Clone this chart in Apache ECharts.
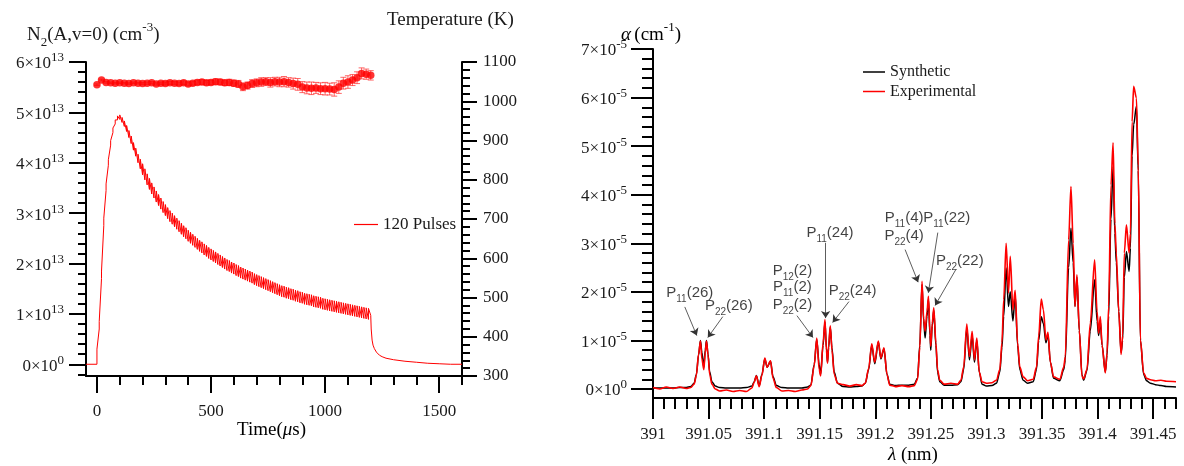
<!DOCTYPE html>
<html><head><meta charset="utf-8">
<script src="https://cdn.jsdelivr.net/npm/echarts@6/dist/echarts.min.js"></script>
<style>html,body{margin:0;padding:0;background:#fff}#c{width:1184px;height:466px}</style>
</head><body><div id="c"></div>
<script>
// ================= LEFT PANEL DATA =================
// N2(A,v=0) density (units of 1e13 cm^-3): value just before (lo) and just after (hi) each pulse
const pulseT = [0,10,20,30,40,50,60,70,80,90,100,110,120,130,140,150,160,170,180,190,200,210,220,230,240,250,260,270,280,290,300,310,320,330,340,350,360,370,380,390,400,410,420,430,440,450,460,470,480,490,500,510,520,530,540,550,560,570,580,590,600,610,620,630,640,650,660,670,680,690,700,710,720,730,740,750,760,770,780,790,800,810,820,830,840,850,860,870,880,890,900,910,920,930,940,950,960,970,980,990,1000,1010,1020,1030,1040,1050,1060,1070,1080,1090,1100,1110,1120,1130,1140,1150,1160,1170,1180,1190];
const n2Lo = [0.00,0.70,1.70,2.75,3.45,3.95,4.35,4.60,4.77,4.85,4.86,4.80,4.72,4.62,4.50,4.38,4.25,4.13,4.00,3.88,
3.76,3.66,3.56,3.47,3.38,3.30,3.22,3.15,3.08,3.01,
2.95,2.89,2.83,2.78,2.73,2.68,2.63,2.58,2.53,2.49,
2.44,2.40,2.36,2.32,2.28,2.24,2.21,2.17,2.14,2.10,
2.07,2.04,2.01,1.98,1.95,1.92,1.89,1.86,1.84,1.81,
1.79,1.76,1.74,1.71,1.69,1.67,1.65,1.63,1.61,1.58,
1.56,1.54,1.52,1.50,1.48,1.46,1.44,1.42,1.40,1.38,
1.36,1.34,1.33,1.31,1.30,1.28,1.27,1.25,1.24,1.22,
1.21,1.19,1.18,1.17,1.16,1.14,1.13,1.12,1.11,1.09,
1.08,1.07,1.06,1.05,1.04,1.03,1.02,1.01,1.00,0.99,
0.98,0.97,0.96,0.95,0.94,0.93,0.92,0.91,0.90,0.89];
const n2Hi = [0.30,0.85,1.85,2.90,3.58,4.06,4.44,4.69,4.85,4.93,4.95,4.90,4.83,4.74,4.64,4.53,4.40,4.29,4.17,4.07,
3.98,3.88,3.78,3.69,3.60,3.52,3.44,3.37,3.30,3.23,
3.17,3.11,3.05,3.00,2.95,2.90,2.85,2.80,2.75,2.71,
2.66,2.62,2.58,2.54,2.50,2.46,2.43,2.39,2.36,2.32,
2.29,2.26,2.23,2.20,2.17,2.14,2.11,2.08,2.06,2.03,
2.01,1.98,1.96,1.93,1.91,1.89,1.87,1.85,1.83,1.80,
1.78,1.76,1.74,1.72,1.70,1.68,1.66,1.64,1.62,1.60,
1.58,1.56,1.55,1.53,1.52,1.50,1.49,1.47,1.46,1.44,
1.43,1.41,1.40,1.39,1.38,1.36,1.35,1.34,1.33,1.31,
1.30,1.29,1.28,1.27,1.26,1.25,1.24,1.23,1.22,1.21,
1.20,1.19,1.18,1.17,1.16,1.15,1.14,1.13,1.12,1.11];
const n2PreT = [-48];
const n2PreV = [0];
const n2TailT = [1200,1202,1206,1210,1216,1225,1238,1250,1267,1300,1350,1400,1450,1500,1550,1600];
const n2TailV = [0.97,0.70,0.48,0.38,0.31,0.24,0.18,0.15,0.12,0.09,0.06,0.04,0.02,0.01,0.00,0.00];

// Temperature (K) with error bars
const tempT = [0,20,40,60,80,100,120,140,160,180,200,220,240,260,280,300,320,340,360,380,400,420,440,460,480,500,520,540,560,580,600,620,640,660,680,700,720,740,760,780,800,820,840,860,880,900,920,940,960,980,1000,1020,1040,1060,1080,1100,1120,1140,1160,1180,1200];
const tempK = [1042,1054,1048,1047,1046,1047,1046,1045,1047,1046,
1045,1046,1047,1044,1046,1045,1047,1046,1045,1047,
1044,1046,1048,1049,1047,1048,1050,1049,1047,1048,
1046,1044,1037,1040,1045,1047,1049,1050,1048,1050,
1049,1050,1048,1045,1043,1036,1034,1033,1034,1032,
1032,1031,1030,1036,1046,1049,1054,1060,1071,1069,1066];
const tempErr = [2,2,2,2,2,2,2,2,2,2, 3,3,3,3,3,4,4,4,4,5, 5,5,6,6,6,6,7,7,7,8, 8,9,10,9,10,10,11,10,12,11, 12,13,12,14,15,14,15,16,14,15, 16,15,17,16,15,16,14,15,14,13,12];

const leftXTicks = [0,500,1000,1500];
const leftYTicks = [0,1,2,3,4,5,6];
const tempTicks = [300,400,500,600,700,800,900,1000,1100];

// ================= RIGHT PANEL DATA =================
const lambda = [391.000,391.006,391.012,391.018,391.024,391.030,391.034,391.037,391.039,391.041,391.0427,391.044,391.0457,391.047,391.0481,391.0495,391.051,391.053,391.056,391.060,
391.066,391.072,391.078,391.084,391.089,391.091,391.093,391.0955,391.098,391.1006,391.1027,391.1057,391.108,391.111,391.116,391.122,391.128,391.134,391.139,391.142,
391.145,391.1473,391.1495,391.1508,391.153,391.1547,391.156,391.157,391.158,391.1595,391.161,391.163,391.166,391.171,391.177,391.183,391.188,391.191,391.194,391.1968,
391.1995,391.2027,391.2050,391.2078,391.2105,391.213,391.218,391.224,391.230,391.235,391.238,391.240,391.242,391.2435,391.2448,391.2465,391.2478,391.2492,391.2499,391.2512,
391.2526,391.2545,391.256,391.258,391.262,391.268,391.274,391.277,391.2795,391.2823,391.2847,391.2871,391.2892,391.2913,391.2935,391.296,391.300,391.305,391.309,391.312,
391.3139,391.3155,391.3177,391.3198,391.3214,391.3238,391.3258,391.328,391.330,391.333,391.337,391.342,391.345,391.347,391.3493,391.3512,391.3535,391.3553,391.3575,391.3604,
391.366,391.3695,391.3709,391.3739,391.376,391.378,391.3796,391.3814,391.3835,391.3859,391.3874,391.3904,391.3934,391.3973,391.3995,391.4009,391.4024,391.404,391.4069,391.4085,
391.4099,391.412,391.4139,391.4155,391.4168,391.419,391.4211,391.4225,391.424,391.4259,391.4283,391.4295,391.431,391.4324,391.4349,391.4365,391.4385,391.4414,391.444,391.4475,
391.452,391.457,391.462,391.4705];
const synthetic = [0.02,0.02,0.02,0.02,0.03,0.03,0.05,0.12,0.30,0.70,1.00,0.75,0.45,0.80,1.00,0.72,0.35,0.15,0.06,0.03,
0.02,0.02,0.02,0.03,0.06,0.15,0.28,0.07,0.30,0.62,0.45,0.57,0.25,0.07,0.03,0.02,0.02,0.02,0.04,0.08,
0.50,1.02,0.50,0.30,0.90,1.38,0.85,0.55,0.85,1.27,0.85,0.35,0.12,0.05,0.04,0.05,0.06,0.12,0.40,0.90,
0.52,0.97,0.62,0.83,0.30,0.10,0.07,0.08,0.08,0.10,0.22,0.90,2.15,1.40,1.05,1.50,1.85,1.10,0.80,1.30,
1.62,0.90,0.35,0.15,0.08,0.08,0.09,0.15,0.40,1.25,0.60,1.10,0.55,1.00,0.35,0.10,0.06,0.07,0.12,0.35,
0.85,1.50,2.49,1.70,2.00,1.40,1.95,0.90,0.40,0.18,0.12,0.15,0.40,1.00,1.49,1.35,0.95,1.12,0.55,0.22,
0.17,0.40,0.60,2.50,3.31,2.60,1.70,2.30,1.20,0.30,0.18,0.38,1.20,2.25,1.40,1.10,1.40,0.90,0.35,0.70,
1.50,3.50,4.58,3.20,2.60,1.60,0.75,1.00,2.30,2.83,2.42,2.90,4.80,5.44,5.82,4.50,1.00,0.30,0.17,0.12,
0.09,0.07,0.05,0.04];
const experimental = [0.03,0.00,0.04,0.01,0.04,0.01,0.03,0.10,0.28,0.72,0.99,0.62,0.40,0.75,0.99,0.70,0.30,0.10,0.00,-0.04,
-0.02,-0.05,-0.03,-0.05,0.02,0.14,0.27,0.05,0.28,0.64,0.45,0.58,0.22,0.03,-0.04,-0.03,-0.05,-0.02,0.00,0.07,
0.48,1.05,0.40,0.27,0.95,1.43,0.80,0.53,0.90,1.30,0.80,0.30,0.12,0.09,0.06,0.09,0.07,0.12,0.42,0.93,
0.55,0.99,0.64,0.85,0.30,0.08,0.05,0.07,0.05,0.07,0.20,0.85,2.22,1.45,1.19,1.60,1.91,1.15,0.88,1.35,
1.67,0.95,0.40,0.18,0.10,0.12,0.10,0.18,0.45,1.34,0.67,1.19,0.60,1.05,0.35,0.15,0.12,0.13,0.18,0.40,
0.95,1.84,3.00,1.98,2.73,1.63,2.03,0.95,0.45,0.25,0.17,0.20,0.45,1.10,1.85,1.63,1.01,1.17,0.55,0.25,
0.20,0.45,0.67,3.07,4.17,3.00,1.70,2.35,1.20,0.26,0.21,0.40,1.36,2.66,1.60,1.15,1.49,0.90,0.33,0.75,
1.70,4.20,5.07,3.40,2.80,1.60,0.71,1.10,2.80,3.38,2.80,3.20,5.50,6.23,5.99,4.60,1.01,0.33,0.22,0.19,
0.17,0.18,0.16,0.15];
const specXTicks = [391,391.05,391.1,391.15,391.2,391.25,391.3,391.35,391.4,391.45];
const specYTicks = [0,1,2,3,4,5,6,7];

// Line assignments (annotations)
const annText = ['P|11|(26)','P|22|(26)','P|12|(2)','P|11|(2)','P|22|(2)','P|11|(24)','P|22|(24)','P|11|(4)','P|22|(4)','P|11|(22)','P|22|(22)'];
const annLambda = [391.0331,391.0682,391.1254,391.1254,391.1254,391.1592,391.1796,391.2259,391.2259,391.2643,391.2760];
const annAlpha = [1.94,1.67,2.39,2.06,1.70,3.18,1.98,3.49,3.12,3.49,2.59];
const arrowFrom = [[391.0286,1.69],[391.0628,1.49],[391.1295,1.51],[391.1553,3.01],[391.1763,1.80],[391.2268,2.87],[391.2562,3.22],[391.2727,2.47]];
const arrowTo = [[391.0394,1.10],[391.0493,1.06],[391.1439,1.06],[391.1553,1.46],[391.1616,1.37],[391.2385,2.20],[391.2477,1.98],[391.2538,1.72]];

// ================= BUILD =================
const SERIF = "'Liberation Serif','Times New Roman',serif";
const SANS = "'Liberation Sans',Arial,sans-serif";
const INK = '#1a1a1a';
const RED = '#ff0000';

const n2Data = [];
n2PreT.forEach((t,i)=>n2Data.push([t,n2PreV[i]]));
pulseT.forEach((t,i)=>{ n2Data.push([t,n2Lo[i]]); n2Data.push([t,n2Hi[i]]); });
n2TailT.forEach((t,i)=>n2Data.push([t,n2TailV[i]]));

const tempData = tempT.map((t,i)=>[t,tempK[i]]);
const errData = tempT.map((t,i)=>[t,tempK[i],tempErr[i]]);
const synData = lambda.map((l,i)=>[l,synthetic[i]]);
const expData = lambda.map((l,i)=>[l,experimental[i]]);

function minorTicks(a,b,step,majorStep){ const r=[]; const n=Math.round((b-a)/step); for(let i=0;i<=n;i++){ const v=+(a+i*step).toFixed(6); if(Math.abs(v/majorStep-Math.round(v/majorStep))>1e-6) r.push(v);} return r; }

const sciRich = {
  b:{fontFamily:SERIF,fontSize:17,color:INK,verticalAlign:'top',padding:[4,0,0,0]},
  s:{fontFamily:SERIF,fontSize:13,color:INK,verticalAlign:'top'}
};
const sci = (zeroExp, exp) => v => '{b|' + v + '×10}{s|' + (v===0?zeroExp:exp) + '}';
const tickStyle = {color:'#000',width:2};
const lineStyle = {color:'#000',width:2};
const plain = v => String(v);

function axis(o){
  return Object.assign({type:'value',splitLine:{show:false},axisPointer:{show:false}},o);
}

const option = {
  animation:false,
  backgroundColor:'#fff',
  grid:[
    {left:86,top:62,width:376,height:314},
    {left:653,top:49,width:523,height:349}
  ],
  xAxis:[
    axis({gridIndex:0,min:-48,max:1600,position:'bottom',
      axisLine:{show:true,onZero:false,lineStyle},
      axisTick:{show:true,customValues:leftXTicks,length:17,lineStyle:tickStyle},
      axisLabel:{show:true,customValues:leftXTicks,margin:27,fontFamily:SERIF,fontSize:17,color:INK,formatter:plain}}),
    axis({gridIndex:0,min:-48,max:1600,position:'bottom',
      axisLine:{show:false,onZero:false},
      axisTick:{show:true,customValues:minorTicks(100,1600,100,500),length:9,lineStyle:tickStyle},
      axisLabel:{show:false}}),
    axis({gridIndex:1,min:391,max:391.4705,position:'bottom',
      axisLine:{show:true,onZero:false,lineStyle},
      axisTick:{show:true,customValues:specXTicks,length:21,lineStyle:tickStyle},
      axisLabel:{show:true,customValues:specXTicks,margin:28,fontFamily:SERIF,fontSize:17,color:INK,
        formatter:v=>String(+(+v).toFixed(2))}}),
    axis({gridIndex:1,min:391,max:391.4705,position:'bottom',
      axisLine:{show:false,onZero:false},
      axisTick:{show:true,customValues:minorTicks(391.01,391.47,0.01,0.05).filter(v=>Math.abs(((v-391)/0.05)-Math.round((v-391)/0.05))>1e-4),length:11,lineStyle:tickStyle},
      axisLabel:{show:false}})
  ],
  yAxis:[
    axis({gridIndex:0,min:-0.233,max:6,position:'left',
      axisLine:{show:true,onZero:false,lineStyle},
      axisTick:{show:true,customValues:leftYTicks,length:17,lineStyle:tickStyle},
      axisLabel:{show:true,customValues:leftYTicks,margin:22,formatter:sci('0','13'),rich:sciRich}}),
    axis({gridIndex:0,min:-0.233,max:6,position:'left',
      axisLine:{show:false,onZero:false},
      axisTick:{show:true,customValues:minorTicks(-0.2,5.8,0.2,1),length:8,lineStyle:tickStyle},
      axisLabel:{show:false}}),
    axis({gridIndex:0,min:300,max:1100,position:'right',
      axisLine:{show:true,onZero:false,lineStyle},
      axisTick:{show:true,customValues:tempTicks,length:15,lineStyle:tickStyle},
      axisLabel:{show:true,customValues:tempTicks,margin:21,fontFamily:SERIF,fontSize:17,color:INK,formatter:plain}}),
    axis({gridIndex:0,min:300,max:1100,position:'right',
      axisLine:{show:false,onZero:false},
      axisTick:{show:true,customValues:minorTicks(320,1080,20,100),length:8,lineStyle:tickStyle},
      axisLabel:{show:false}}),
    axis({gridIndex:1,min:-0.185,max:7,position:'left',
      axisLine:{show:true,onZero:false,lineStyle},
      axisTick:{show:true,customValues:specYTicks,length:22,lineStyle:tickStyle},
      axisLabel:{show:true,customValues:specYTicks,margin:26,formatter:sci('0','-5'),rich:sciRich}}),
    axis({gridIndex:1,min:-0.185,max:7,position:'left',
      axisLine:{show:false,onZero:false},
      axisTick:{show:true,customValues:minorTicks(0.2,6.8,0.2,1),length:11,lineStyle:tickStyle},
      axisLabel:{show:false}})
  ],
  legend:[
    {data:[{name:'120 Pulses',icon:'rect',itemStyle:{color:RED}}],left:349,top:211,itemWidth:24,itemHeight:1.2,selectedMode:false,
      textStyle:{fontFamily:SERIF,fontSize:17,color:INK}},
    {data:[{name:'Synthetic',icon:'rect',itemStyle:{color:'#000'}},{name:'Experimental',icon:'rect',itemStyle:{color:RED}}],
      orient:'vertical',left:858,top:59,itemWidth:22,itemHeight:1.5,itemGap:3.5,selectedMode:false,
      textStyle:{fontFamily:SERIF,fontSize:16,color:INK}}
  ],
  series:[
    {name:'120 Pulses',type:'line',xAxisIndex:0,yAxisIndex:0,data:n2Data,symbol:'none',
      lineStyle:{color:RED,width:1},itemStyle:{color:RED},silent:true},
    {name:'Terr',type:'custom',xAxisIndex:0,yAxisIndex:2,data:errData,silent:true,
      renderItem:(params,api)=>{
        const x=api.value(0),y=api.value(1),e=api.value(2);
        const a=api.coord([x,y+e]),b=api.coord([x,y-e]); const w=3;
        const st={stroke:'rgba(255,40,40,0.7)',lineWidth:1};
        return {type:'group',children:[
          {type:'line',shape:{x1:a[0],y1:a[1],x2:b[0],y2:b[1]},style:st},
          {type:'line',shape:{x1:a[0]-w,y1:a[1],x2:a[0]+w,y2:a[1]},style:st},
          {type:'line',shape:{x1:b[0]-w,y1:b[1],x2:b[0]+w,y2:b[1]},style:st}
        ]};
      }},
    {name:'Temperature',type:'scatter',xAxisIndex:0,yAxisIndex:2,data:tempData,symbolSize:7.5,
      itemStyle:{color:RED},silent:true},
    {name:'Synthetic',type:'line',xAxisIndex:2,yAxisIndex:4,data:synData,symbol:'none',smooth:0.3,smoothMonotone:'x',
      lineStyle:{color:'#000',width:1.5},itemStyle:{color:'#000'},silent:true},
    {name:'Experimental',type:'line',xAxisIndex:2,yAxisIndex:4,data:expData,symbol:'none',smooth:0.3,smoothMonotone:'x',
      lineStyle:{color:RED,width:1.6},itemStyle:{color:RED},silent:true},
    {name:'ann',type:'scatter',xAxisIndex:2,yAxisIndex:4,symbolSize:1,itemStyle:{color:'rgba(0,0,0,0)'},silent:true,
      data:annLambda.map((l,i)=>[l,annAlpha[i]]),
      label:{show:true,position:'inside',
        formatter:p=>{const s=annText[p.dataIndex].split('|');return '{p|'+s[0]+'}{q|'+s[1]+'}{p|'+s[2]+'}';},
        rich:{p:{fontFamily:SANS,fontSize:15,color:'#111',verticalAlign:'bottom',padding:[0,0,4,0]},
              q:{fontFamily:SANS,fontSize:10,color:'#111',verticalAlign:'bottom'}}},
      markLine:{silent:true,symbol:['none','arrow'],symbolSize:7,animation:false,
        label:{show:false},lineStyle:{color:'#333',width:0.8,type:'solid'},
        data:arrowFrom.map((f,i)=>[{coord:f},{coord:arrowTo[i]}])}}
  ],
  graphic:[
    {type:'text',x:27,y:35,style:{text:'{a|N}{d|2}{a|(A,v=0) (cm}{u|-3}{a|)}',verticalAlign:'middle',
      rich:{a:{fontFamily:SERIF,fontSize:19,fill:INK,color:INK,verticalAlign:'bottom',padding:[5,0,4,0]},
            d:{fontFamily:SERIF,fontSize:13,fill:INK,color:INK,verticalAlign:'bottom'},
            u:{fontFamily:SERIF,fontSize:13,fill:INK,color:INK,verticalAlign:'top'}}}},
    {type:'text',x:387,y:20,style:{text:'Temperature (K)',font:'19px '+SERIF,fill:INK,verticalAlign:'middle'}},
    {type:'text',x:237,y:430,style:{text:'{a|Time(}{i|μ}{a|s)}',verticalAlign:'middle',
      rich:{a:{fontFamily:SERIF,fontSize:19,color:INK},i:{fontFamily:SERIF,fontSize:19,fontStyle:'italic',color:INK}}}},
    {type:'text',x:621,y:33,style:{text:'{i|α} {a|(cm}{u|-1}{a|)}',verticalAlign:'middle',
      rich:{a:{fontFamily:SERIF,fontSize:19,color:INK,verticalAlign:'top',padding:[4,0,0,0]},
            i:{fontFamily:SERIF,fontSize:19,fontStyle:'italic',color:INK,verticalAlign:'top',padding:[4,0,0,0]},
            u:{fontFamily:SERIF,fontSize:13,color:INK,verticalAlign:'top'}}}},
    {type:'text',x:888,y:455,style:{text:'{i|λ}{a| (nm)}',verticalAlign:'middle',
      rich:{a:{fontFamily:SERIF,fontSize:19,color:INK},i:{fontFamily:SERIF,fontSize:19,fontStyle:'italic',color:INK}}}}
  ]
};

const chart = echarts.init(document.getElementById('c'),null,{renderer:'canvas',width:1184,height:466});
chart.setOption(option);
</script>
</body></html>
